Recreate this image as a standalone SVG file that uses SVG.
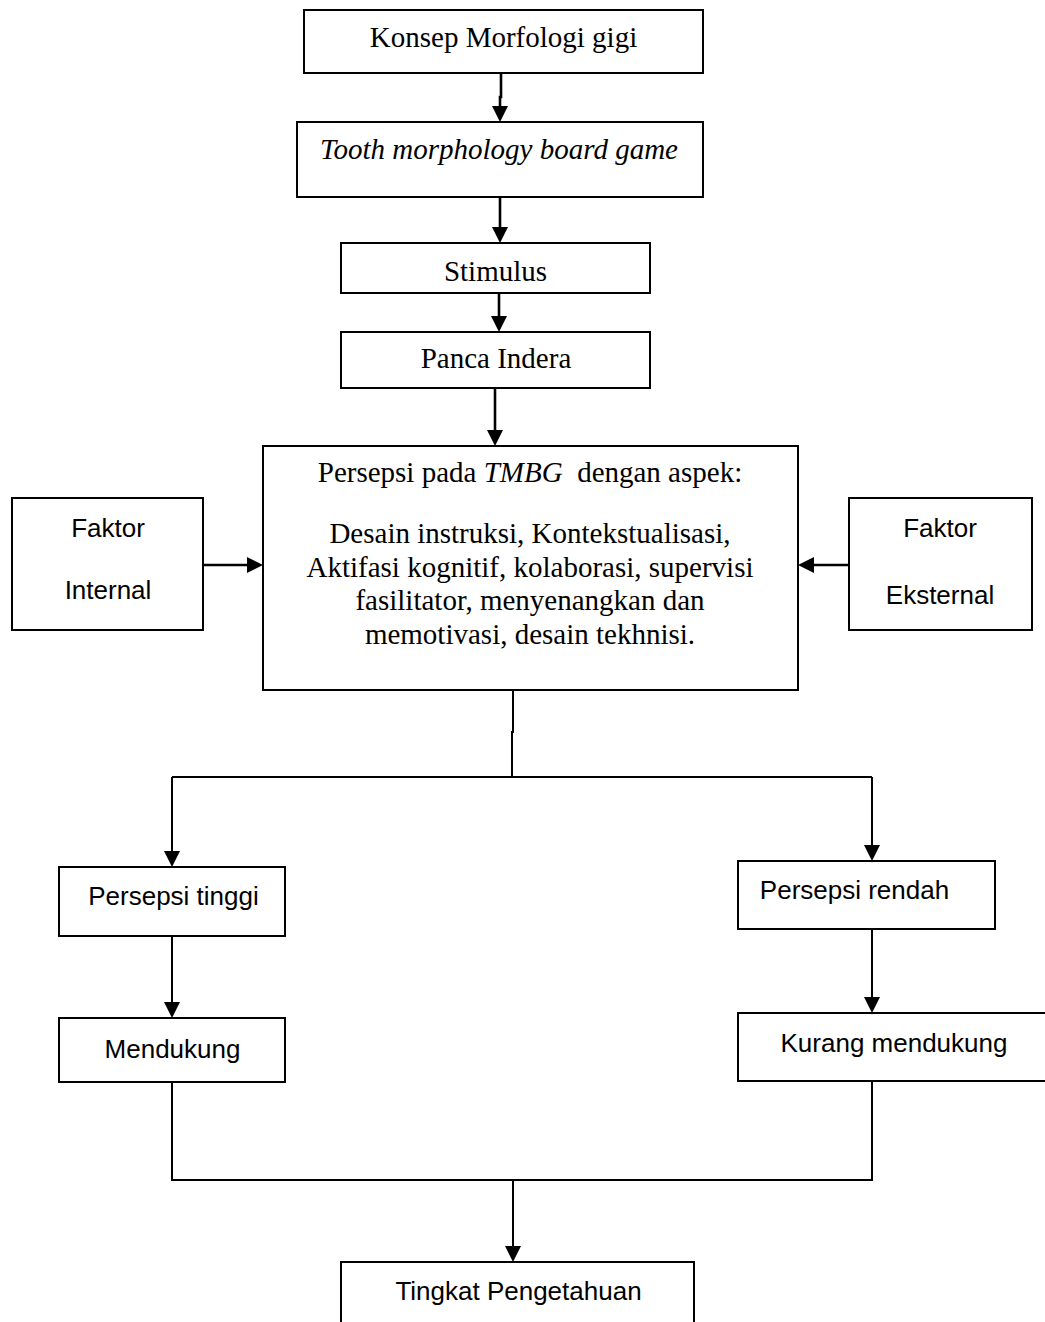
<svg xmlns="http://www.w3.org/2000/svg" width="1045" height="1322" viewBox="0 0 1045 1322">
<style>
.box{fill:#fff;stroke:#000;stroke-width:2}
.serif{font-family:"Liberation Serif","Times New Roman",serif;font-size:29px;fill:#000;text-anchor:middle}
.sans{font-family:"Liberation Sans",Arial,sans-serif;font-size:26px;fill:#000;text-anchor:middle}
.conn{fill:none;stroke:#000;stroke-width:2}
.thick{stroke-width:2.6}
.arr{marker-end:url(#ah)}
</style>
<defs>
<marker id="ah" markerUnits="userSpaceOnUse" markerWidth="16" markerHeight="16" viewBox="0 0 16 16" refX="10" refY="8" orient="auto">
<path d="M0,0 L16,8 L0,16 z" fill="#000"/>
</marker>
</defs>
<rect width="1045" height="1322" fill="#fff"/>
<g id="connectors">
<path class="conn thick arr" d="M501,73 V97 L500,97 V116"/>
<path class="conn thick arr" d="M500,197 V237"/>
<path class="conn thick arr" d="M499,293 V326"/>
<path class="conn thick arr" d="M495,388 V440"/>
<path class="conn thick arr" d="M203,565 H257"/>
<path class="conn thick arr" d="M849,565 H804"/>
<path class="conn" d="M513,690 V732 L512,732 V777"/>
<path class="conn" d="M172,777 H872"/>
<path class="conn arr" d="M172,777 V861"/>
<path class="conn arr" d="M872,777 V855"/>
<path class="conn arr" d="M172,936 V1012"/>
<path class="conn arr" d="M872,929 V1007"/>
<path class="conn" d="M172,1082 V1180 H872 V1081"/>
<path class="conn arr" d="M513,1180 V1256"/>
</g>
<g id="n-konsep">
<rect class="box" x="304" y="10" width="399" height="63"/>
<text class="serif" x="503.5" y="47">Konsep Morfologi gigi</text>
</g>
<g id="n-tmbg">
<rect class="box" x="297" y="122" width="406" height="75"/>
<text class="serif" x="499" y="159" font-style="italic">Tooth morphology board game</text>
</g>
<g id="n-stimulus">
<rect class="box" x="341" y="243" width="309" height="50"/>
<text class="serif" x="495.5" y="281">Stimulus</text>
</g>
<g id="n-panca">
<rect class="box" x="341" y="332" width="309" height="56"/>
<text class="serif" x="496" y="368">Panca Indera</text>
</g>
<g id="n-persepsi">
<rect class="box" x="263" y="446" width="535" height="244"/>
<text class="serif" x="530" y="482" xml:space="preserve">Persepsi pada <tspan font-style="italic">TMBG</tspan>  dengan aspek:</text>
<text class="serif" x="530" y="543">Desain instruksi, Kontekstualisasi,</text>
<text class="serif" x="530" y="577">Aktifasi kognitif, kolaborasi, supervisi</text>
<text class="serif" x="530" y="610">fasilitator, menyenangkan dan</text>
<text class="serif" x="530" y="644">memotivasi, desain tekhnisi.</text>
</g>
<g id="n-internal">
<rect class="box" x="12" y="498" width="191" height="132"/>
<text class="sans" x="108" y="537">Faktor</text>
<text class="sans" x="108" y="599">Internal</text>
</g>
<g id="n-eksternal">
<rect class="box" x="849" y="498" width="183" height="132"/>
<text class="sans" x="940" y="537">Faktor</text>
<text class="sans" x="940" y="604">Eksternal</text>
</g>
<g id="n-tinggi">
<rect class="box" x="59" y="867" width="226" height="69"/>
<text class="sans" x="173.5" y="905">Persepsi tinggi</text>
</g>
<g id="n-mendukung">
<rect class="box" x="59" y="1018" width="226" height="64"/>
<text class="sans" x="172.5" y="1058">Mendukung</text>
</g>
<g id="n-rendah">
<rect class="box" x="738" y="861" width="257" height="68"/>
<text class="sans" x="854.5" y="899">Persepsi rendah</text>
</g>
<g id="n-kurang">
<rect class="box" x="738" y="1013" width="320" height="68"/>
<text class="sans" x="894" y="1052">Kurang mendukung</text>
</g>
<g id="n-tingkat">
<rect class="box" x="341" y="1262" width="353" height="80"/>
<text class="sans" x="518.5" y="1300">Tingkat Pengetahuan</text>
</g>
</svg>
